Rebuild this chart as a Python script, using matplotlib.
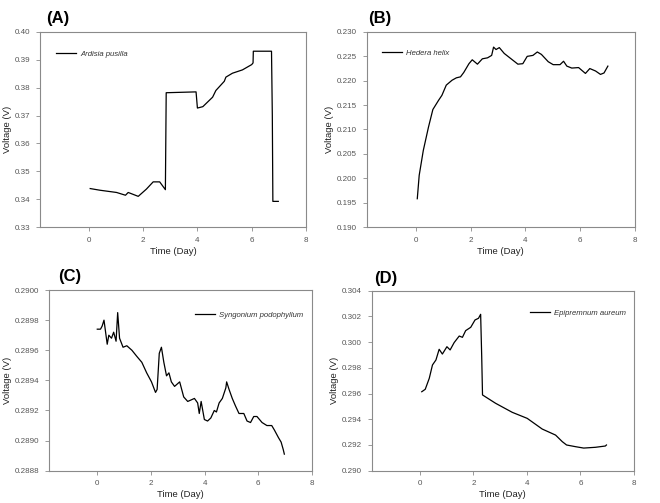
import matplotlib
matplotlib.use("Agg")
import matplotlib.pyplot as plt

plt.rcParams['font.family'] = ['Liberation Sans', 'DejaVu Sans']

# ---- Data ----
a_day = [0.05, 0.41, 1.02, 1.35, 1.45, 1.82, 2.12, 2.37, 2.61, 2.82, 2.85, 3.95, 4.0, 4.2,
         4.56, 4.68, 4.99, 5.05, 5.29, 5.66, 6.0, 6.05, 6.06, 6.73, 6.76, 6.78, 6.98]
a_volt = [0.3438, 0.3432, 0.3424, 0.3414, 0.3424, 0.3410, 0.3436, 0.3462, 0.3462, 0.3434, 0.3782,
          0.3785, 0.3727, 0.3732, 0.3766, 0.3790, 0.3823, 0.3838, 0.3852, 0.3864, 0.3883, 0.3889,
          0.3931, 0.3931, 0.3700, 0.3392, 0.3392]

b_day = [0.05, 0.12, 0.27, 0.46, 0.62, 0.83, 0.95, 1.11, 1.32, 1.48, 1.63, 1.75, 1.94, 2.06,
         2.25, 2.43, 2.62, 2.77, 2.84, 2.93, 3.05, 3.23, 3.48, 3.73, 3.91, 4.07, 4.28, 4.44,
         4.59, 4.84, 5.02, 5.27, 5.40, 5.52, 5.70, 5.95, 6.20, 6.36, 6.57, 6.75, 6.88, 7.02]
b_volt = [0.1958, 0.2006, 0.2057, 0.2105, 0.2141, 0.2160, 0.2170, 0.2191, 0.2201, 0.2206,
          0.2208, 0.2217, 0.2235, 0.2243, 0.2234, 0.2245, 0.2247, 0.2252, 0.2269, 0.2264,
          0.2268, 0.2256, 0.2245, 0.2234, 0.2235, 0.2250, 0.2252, 0.2259, 0.2254, 0.2239,
          0.2233, 0.2233, 0.2240, 0.2230, 0.2226, 0.2227, 0.2215, 0.2225, 0.2220, 0.2213,
          0.2216, 0.2230]

c_day = [0.0, 0.12, 0.18, 0.25, 0.37, 0.43, 0.53, 0.61, 0.70, 0.76, 0.83, 0.96, 1.10, 1.29,
         1.47, 1.66, 1.84, 2.02, 2.17, 2.23, 2.31, 2.39, 2.48, 2.58, 2.67, 2.76, 2.88, 3.07,
         3.22, 3.37, 3.62, 3.74, 3.80, 3.87, 3.99, 4.11, 4.23, 4.36, 4.44, 4.54, 4.66, 4.79,
         4.82, 4.91, 5.03, 5.15, 5.28, 5.46, 5.58, 5.71, 5.83, 5.95, 6.14, 6.32, 6.50, 6.60,
         6.75, 6.85, 6.93, 6.97]
c_volt = [0.28974, 0.28974, 0.28976, 0.28980, 0.28964, 0.28970, 0.28968, 0.28972, 0.28966,
          0.28985, 0.28968, 0.28962, 0.28963, 0.28960, 0.28956, 0.28952, 0.28945, 0.28939,
          0.28932, 0.28934, 0.28958, 0.28962, 0.28952, 0.28943, 0.28945, 0.28939, 0.28936,
          0.28939, 0.28929, 0.28926, 0.28928, 0.28925, 0.28918, 0.28926, 0.28914, 0.28913,
          0.28915, 0.28920, 0.28919, 0.28925, 0.28928, 0.28935, 0.28939, 0.28934, 0.28928,
          0.28923, 0.28918, 0.28918, 0.28913, 0.28912, 0.28916, 0.28916, 0.28912, 0.28910,
          0.28910, 0.28907, 0.28902, 0.28899, 0.28894, 0.28891]

d_day = [0.07, 0.20, 0.35, 0.47, 0.60, 0.72, 0.84, 1.01, 1.13, 1.28, 1.47, 1.59, 1.71, 1.90,
         2.06, 2.19, 2.27, 2.31, 2.34, 2.83, 3.45, 4.01, 4.57, 5.07, 5.32, 5.48, 5.81, 6.12,
         6.56, 6.93, 6.97]
d_volt = [0.29614, 0.29633, 0.29718, 0.29822, 0.29861, 0.29944, 0.29907, 0.29964, 0.29939,
          0.29996, 0.30047, 0.30037, 0.30089, 0.30115, 0.30172, 0.30185, 0.30216, 0.29887,
          0.29589, 0.29524, 0.29454, 0.29407, 0.29324, 0.29277, 0.29226, 0.29200, 0.29187,
          0.29176, 0.29182, 0.29192, 0.29200]

x_ticks = [0, 2, 4, 6, 8]
a_yticks = [0.33, 0.34, 0.35, 0.36, 0.37, 0.38, 0.39, 0.40]
b_yticks = [0.190, 0.195, 0.200, 0.205, 0.210, 0.215, 0.220, 0.225, 0.230]
c_yticks = [0.2888, 0.2890, 0.2892, 0.2894, 0.2896, 0.2898, 0.2900]
d_yticks = [0.290, 0.292, 0.294, 0.296, 0.298, 0.300, 0.302, 0.304]

panels = [
    dict(label='(A)', name='Ardisia pusilla', x=a_day, y=a_volt, yt=a_yticks, fmt='%.2f',
         rect=[0.0606, 0.5487, 0.403, 0.3877], leg=(0.06, 0.887), lab=(46, 19)),
    dict(label='(B)', name='Hedera helix', x=b_day, y=b_volt, yt=b_yticks, fmt='%.3f',
         rect=[0.5556, 0.5487, 0.406, 0.3877], leg=(0.057, 0.89), lab=(368, 19)),
    dict(label='(C)', name='Syngonium podophyllum', x=c_day, y=c_volt, yt=c_yticks, fmt='%.4f',
         rect=[0.0742, 0.0642, 0.3985, 0.3592], leg=(0.555, 0.862), lab=(58, 276)),
    dict(label='(D)', name='Epipremnum aureum', x=d_day, y=d_volt, yt=d_yticks, fmt='%.3f',
         rect=[0.5632, 0.0642, 0.3974, 0.358], leg=(0.604, 0.876), lab=(374, 278)),
]

W, H = 660, 503
fig = plt.figure(figsize=(W / 100, H / 100), dpi=100)
spine_col = '#8a8a8a'
tick_col = '#555555'

for p in panels:
    ax = fig.add_axes(p['rect'])
    ax.plot(p['x'], p['y'], color='black', lw=0.9, label=p['name'])
    ax.set_xlim(-1.8, 8)
    ax.set_ylim(p['yt'][0], p['yt'][-1])
    ax.set_xticks(x_ticks)
    ax.set_xticklabels([str(v) for v in x_ticks])
    ax.set_yticks(p['yt'])
    ax.set_yticklabels([p['fmt'] % v for v in p['yt']])
    for s in ax.spines.values():
        s.set_color(spine_col)
        s.set_linewidth(0.8)
    ax.tick_params(direction='out', length=3, width=0.6, color=spine_col,
                   labelsize=5.8, labelcolor=tick_col, pad=4)
    ax.set_xlabel('Time (Day)', fontsize=6.8, color='#222222', labelpad=2)
    ax.set_ylabel('Voltage (V)', fontsize=6.8, color='#222222', labelpad=2)
    leg = ax.legend(loc='center left', bbox_to_anchor=p['leg'], frameon=False,
                    borderpad=0, borderaxespad=0, handlelength=2.6, handletextpad=0.5,
                    prop={'style': 'italic', 'size': 5.6})
    for t in leg.get_texts():
        t.set_color('#333333')
    fig.text(p['lab'][0] / W, 1 - p['lab'][1] / H, p['label'], fontsize=12,
             fontweight='bold', ha='left', va='center')

fig.savefig('out.png', dpi=100)
